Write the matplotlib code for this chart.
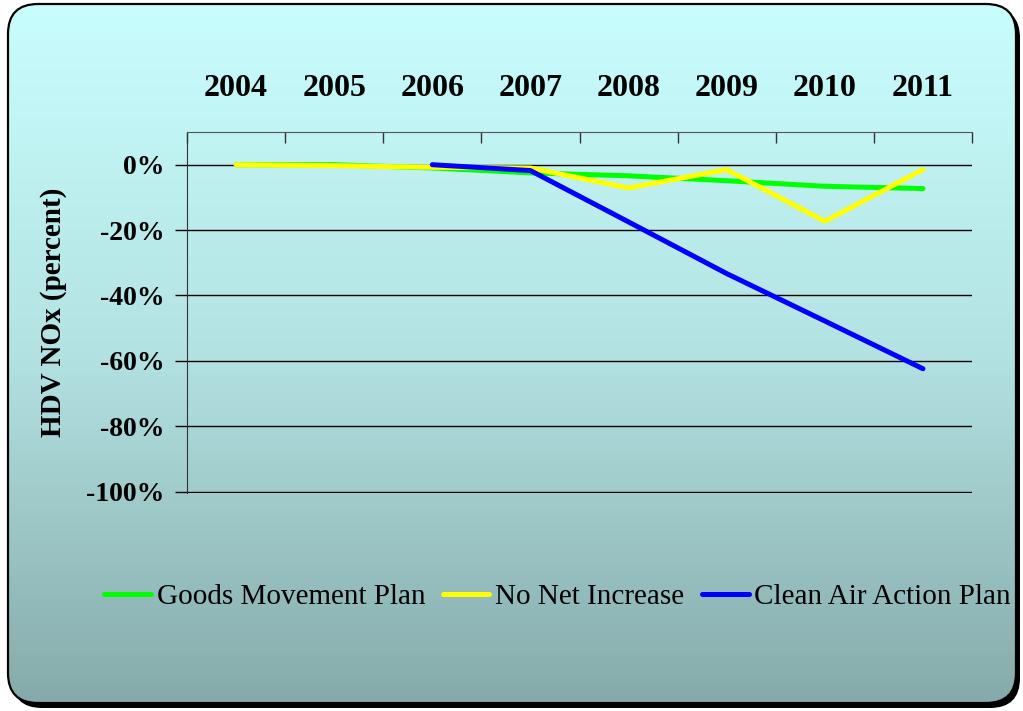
import numpy as np
import matplotlib
matplotlib.use("Agg")
import matplotlib.pyplot as plt
from matplotlib.patches import FancyBboxPatch
from matplotlib.colors import LinearSegmentedColormap

years = ["2004", "2005", "2006", "2007", "2008", "2009", "2010", "2011"]
goods_movement = [0.0, 0.0, -1.0, -2.5, -3.4, -4.9, -6.6, -7.3]
no_net_increase = [0.0, -0.3, -0.8, -1.0, -7.1, -1.5, -17.3, -1.5]
clean_air = [None, None, 0.0, -1.8, -17.5, -33.3, -47.8, -62.4]
yticks = [0, -20, -40, -60, -80, -100]

plt.rcParams['font.family'] = ['Liberation Serif', 'DejaVu Serif']

W, H = 1023, 711
fig = plt.figure(figsize=(W / 100, H / 100), dpi=100)
fig.patch.set_facecolor("white")

# background panel: rounded box with shadow and vertical gradient
bg = fig.add_axes([0, 0, 1, 1])
bg.set_xlim(0, W)
bg.set_ylim(H, 0)
bg.axis("off")

shadow = FancyBboxPatch((12, 8), 1008, 700, boxstyle="round,pad=0,rounding_size=30",
                        facecolor="black", edgecolor="none")
bg.add_patch(shadow)
panel = FancyBboxPatch((8, 4), 1008, 699, boxstyle="round,pad=0,rounding_size=30",
                       facecolor="none", edgecolor="black", linewidth=1.6, zorder=3)
bg.add_patch(panel)
cmap = LinearSegmentedColormap.from_list("panel", ["#c9fefe", "#b3e2e2", "#86aaaa"])
grad = np.linspace(0, 1, 256).reshape(-1, 1)
im = bg.imshow(grad, cmap=cmap, extent=(8, 1016, 703, 4), aspect="auto", zorder=2)
im.set_clip_path(panel)

ax = fig.add_axes([187 / W, 1 - 493 / H, 785 / W, 361 / H])
ax.set_facecolor("none")
x = np.arange(len(years))

ax.plot(x, goods_movement, color="#00ff00", lw=3.6, solid_capstyle="round", label="Goods Movement Plan")
ax.plot(x, no_net_increase, color="#ffff00", lw=3.6, solid_capstyle="round", label="No Net Increase")
ca = np.array([np.nan if v is None else v for v in clean_air], dtype=float)
ax.plot(x, ca, color="#0000ff", lw=3.6, solid_capstyle="round", label="Clean Air Action Plan")

ax.set_xlim(-0.5, len(years) - 0.5)
ax.set_ylim(-100.4, 10)

# years along the top, tick marks at category boundaries
ax.xaxis.tick_top()
ax.set_xticks(x)
ax.set_xticklabels(years, fontsize=23, fontweight="bold")
ax.set_xticks(np.arange(-0.5, len(years)), minor=True)
ax.tick_params(axis="x", which="major", length=0, pad=21)
ax.tick_params(axis="x", which="minor", direction="in", length=8, width=1, color="#333333")

ax.set_yticks(yticks)
ax.set_yticklabels([f"{v}%" for v in yticks], fontsize=20, fontweight="bold")
ax.tick_params(axis="y", direction="out", length=9, width=1, pad=7)
ax.yaxis.grid(True, color="black", lw=1)
ax.set_axisbelow(True)
ax.set_ylabel("HDV NOx (percent)", fontsize=21, fontweight="bold", labelpad=14)

for side in ("right", "bottom"):
    ax.spines[side].set_visible(False)
ax.spines["top"].set_color("#555555")
ax.spines["left"].set_color("#333333")

fig.legend(loc="center", bbox_to_anchor=(0.545, 1 - 597 / H), ncol=3, frameon=False,
           fontsize=21, handlelength=1.6, handletextpad=0.2, columnspacing=0.6)

fig.savefig("out.png", dpi=100)
